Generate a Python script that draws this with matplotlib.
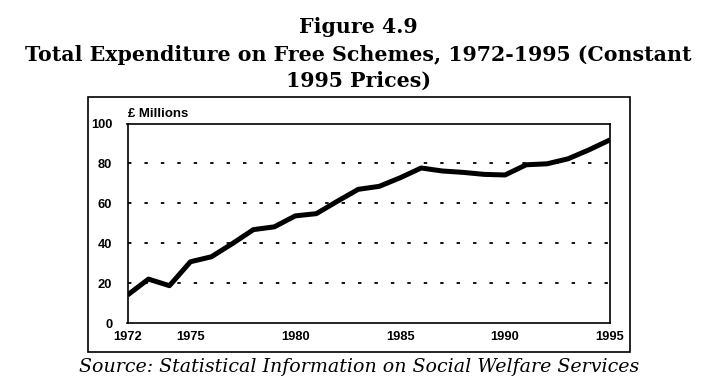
import matplotlib
matplotlib.use('Agg')
from matplotlib import pyplot as plt
from matplotlib.patches import Rectangle

# data (constant 1995 prices, £ millions)
years = list(range(1972, 1996))
expenditure = [14, 22, 18.7, 30.7, 33.2, 39.8, 46.8, 48.2, 53.7, 54.8, 61, 67,
               68.5, 72.8, 77.7, 76.2, 75.5, 74.5, 74.2, 79.3, 79.8, 82.3, 86.8, 91.8]
xticks = [1972, 1975, 1980, 1985, 1990, 1995]
yticks = [0, 20, 40, 60, 80, 100]

fig = plt.figure(figsize=(7.14, 3.91), dpi=100)

# titles
fig.text(0.502, 1 - 27/391, "Figure 4.9", ha='center', va='center',
         family='DejaVu Serif', weight='bold', fontsize=14.8)
fig.text(0.502, 1 - 55/391, "Total Expenditure on Free Schemes, 1972-1995 (Constant",
         ha='center', va='center', family='DejaVu Serif', weight='bold', fontsize=14.8)
fig.text(0.502, 1 - 81/391, "1995 Prices)", ha='center', va='center',
         family='DejaVu Serif', weight='bold', fontsize=14.8)

# outer frame round the chart
fig.patches.append(Rectangle((87.5/714, 1 - 351.5/391), (630 - 87.5)/714, (351.5 - 97)/391,
                             transform=fig.transFigure, fill=False, lw=1.2, ec='black'))

ax = fig.add_axes([127.5/714, 68/391, (610 - 127.5)/714, (323 - 123.5)/391])
ax.plot(years, expenditure, color='black', lw=3.6, solid_joinstyle='round',
        solid_capstyle='butt', zorder=3)

for y in yticks[1:-1]:
    ax.axhline(y, color='black', lw=1.3, linestyle=(0, (1.9, 7.2)), zorder=1)

ax.set_xlim(1972, 1995)
ax.set_ylim(0, 100)
ax.set_xticks(xticks)
ax.set_yticks(yticks)
ax.tick_params(length=0, labelsize=9.3)
ax.tick_params(axis='x', pad=6)
ax.tick_params(axis='y', pad=11)
for lab in ax.get_xticklabels() + ax.get_yticklabels():
    lab.set_family('Liberation Sans')
    lab.set_weight('bold')
for s in ax.spines.values():
    s.set_linewidth(1.2)

ax.text(0, 1.02, "£ Millions", transform=ax.transAxes, ha='left', va='bottom',
        family='Liberation Sans', weight='bold', fontsize=9.5)

fig.text(0.503, 1 - 367/391, "Source: Statistical Information on Social Welfare Services",
         ha='center', va='center', family='DejaVu Serif', style='italic', fontsize=13.7)

fig.savefig("out.png", dpi=100)
